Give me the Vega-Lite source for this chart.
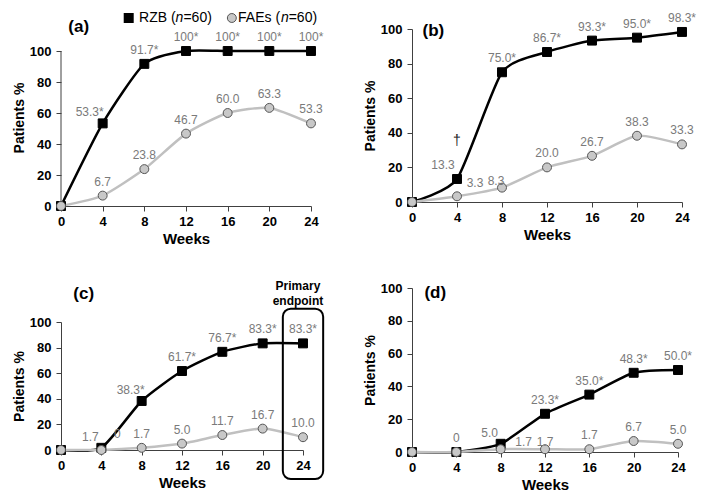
{
  "$schema": "https://vega.github.io/schema/vega-lite/v6.json",
  "padding": {"left": 12, "top": 10, "right": 5, "bottom": 5},
  "background": "white",
  "data": {"values": [
    {"panel": "a", "group": "RZB", "week": 0, "value": 0, "label": null},
    {"panel": "a", "group": "RZB", "week": 4, "value": 53.3, "label": "53.3*"},
    {"panel": "a", "group": "RZB", "week": 8, "value": 91.7, "label": "91.7*"},
    {"panel": "a", "group": "RZB", "week": 12, "value": 100, "label": "100*"},
    {"panel": "a", "group": "RZB", "week": 16, "value": 100, "label": "100*"},
    {"panel": "a", "group": "RZB", "week": 20, "value": 100, "label": "100*"},
    {"panel": "a", "group": "RZB", "week": 24, "value": 100, "label": "100*"},
    {"panel": "b", "group": "RZB", "week": 0, "value": 0, "label": null},
    {"panel": "b", "group": "RZB", "week": 4, "value": 13.3, "label": "13.3"},
    {"panel": "b", "group": "RZB", "week": 8, "value": 75.0, "label": "75.0*"},
    {"panel": "b", "group": "RZB", "week": 12, "value": 86.7, "label": "86.7*"},
    {"panel": "b", "group": "RZB", "week": 16, "value": 93.3, "label": "93.3*"},
    {"panel": "b", "group": "RZB", "week": 20, "value": 95.0, "label": "95.0*"},
    {"panel": "b", "group": "RZB", "week": 24, "value": 98.3, "label": "98.3*"},
    {"panel": "c", "group": "RZB", "week": 0, "value": 0, "label": null},
    {"panel": "c", "group": "RZB", "week": 4, "value": 1.7, "label": "1.7"},
    {"panel": "c", "group": "RZB", "week": 8, "value": 38.3, "label": "38.3*"},
    {"panel": "c", "group": "RZB", "week": 12, "value": 61.7, "label": "61.7*"},
    {"panel": "c", "group": "RZB", "week": 16, "value": 76.7, "label": "76.7*"},
    {"panel": "c", "group": "RZB", "week": 20, "value": 83.3, "label": "83.3*"},
    {"panel": "c", "group": "RZB", "week": 24, "value": 83.3, "label": "83.3*"},
    {"panel": "d", "group": "RZB", "week": 0, "value": 0, "label": null},
    {"panel": "d", "group": "RZB", "week": 4, "value": 0, "label": "0"},
    {"panel": "d", "group": "RZB", "week": 8, "value": 5.0, "label": "5.0"},
    {"panel": "d", "group": "RZB", "week": 12, "value": 23.3, "label": "23.3*"},
    {"panel": "d", "group": "RZB", "week": 16, "value": 35.0, "label": "35.0*"},
    {"panel": "d", "group": "RZB", "week": 20, "value": 48.3, "label": "48.3*"},
    {"panel": "d", "group": "RZB", "week": 24, "value": 50.0, "label": "50.0*"},
    {"panel": "a", "group": "FAEs", "week": 0, "value": 0, "label": null},
    {"panel": "a", "group": "FAEs", "week": 4, "value": 6.7, "label": "6.7"},
    {"panel": "a", "group": "FAEs", "week": 8, "value": 23.8, "label": "23.8"},
    {"panel": "a", "group": "FAEs", "week": 12, "value": 46.7, "label": "46.7"},
    {"panel": "a", "group": "FAEs", "week": 16, "value": 60.0, "label": "60.0"},
    {"panel": "a", "group": "FAEs", "week": 20, "value": 63.3, "label": "63.3"},
    {"panel": "a", "group": "FAEs", "week": 24, "value": 53.3, "label": "53.3"},
    {"panel": "b", "group": "FAEs", "week": 0, "value": 0, "label": null},
    {"panel": "b", "group": "FAEs", "week": 4, "value": 3.3, "label": "3.3"},
    {"panel": "b", "group": "FAEs", "week": 8, "value": 8.3, "label": "8.3"},
    {"panel": "b", "group": "FAEs", "week": 12, "value": 20.0, "label": "20.0"},
    {"panel": "b", "group": "FAEs", "week": 16, "value": 26.7, "label": "26.7"},
    {"panel": "b", "group": "FAEs", "week": 20, "value": 38.3, "label": "38.3"},
    {"panel": "b", "group": "FAEs", "week": 24, "value": 33.3, "label": "33.3"},
    {"panel": "c", "group": "FAEs", "week": 0, "value": 0, "label": null},
    {"panel": "c", "group": "FAEs", "week": 4, "value": 0, "label": "0"},
    {"panel": "c", "group": "FAEs", "week": 8, "value": 1.7, "label": "1.7"},
    {"panel": "c", "group": "FAEs", "week": 12, "value": 5.0, "label": "5.0"},
    {"panel": "c", "group": "FAEs", "week": 16, "value": 11.7, "label": "11.7"},
    {"panel": "c", "group": "FAEs", "week": 20, "value": 16.7, "label": "16.7"},
    {"panel": "c", "group": "FAEs", "week": 24, "value": 10.0, "label": "10.0"},
    {"panel": "d", "group": "FAEs", "week": 0, "value": 0, "label": null},
    {"panel": "d", "group": "FAEs", "week": 4, "value": 0, "label": null},
    {"panel": "d", "group": "FAEs", "week": 8, "value": 1.7, "label": "1.7"},
    {"panel": "d", "group": "FAEs", "week": 12, "value": 1.7, "label": "1.7"},
    {"panel": "d", "group": "FAEs", "week": 16, "value": 1.7, "label": "1.7"},
    {"panel": "d", "group": "FAEs", "week": 20, "value": 6.7, "label": "6.7"},
    {"panel": "d", "group": "FAEs", "week": 24, "value": 5.0, "label": "5.0"}
  ]},
  "spacing": 38,
  "hconcat": [
    {
      "spacing": 34,
      "vconcat": [
        {
          "width": 250, "height": 177,
          "encoding": {
            "x": {"field": "week", "type": "quantitative", "scale": {"domain": [0, 24], "nice": false}, "axis": {"values": [0, 4, 8, 12, 16, 20, 24], "title": "Weeks"}},
            "y": {"field": "value", "type": "quantitative", "scale": {"domain": [0, 114.2], "nice": false}, "axis": {"values": [0, 20, 40, 60, 80, 100], "title": "Patients %", "domain": false}}
          },
          "layer": [
            {"transform": [{"filter": "datum.panel == 'a' && datum.group == 'RZB' && datum.week == 0"}], "mark": {"type": "rule", "color": "#404040", "strokeWidth": 1}, "encoding": {"x": {"datum": 0}, "y": {"datum": 0}, "y2": {"datum": 100}}},
            {"transform": [{"filter": "datum.panel == 'a'"}], "mark": {"type": "line", "interpolate": "cardinal", "tension": 0.4, "strokeWidth": 2.5}, "encoding": {"color": {"field": "group", "type": "nominal", "scale": {"domain": ["RZB", "FAEs"], "range": ["black", "#c0c0c0"]}, "legend": null}}},
            {"transform": [{"filter": "datum.panel == 'a'"}], "mark": {"type": "point", "filled": true, "size": 80, "strokeWidth": 1, "opacity": 1},
             "encoding": {
               "shape": {"field": "group", "type": "nominal", "scale": {"domain": ["RZB", "FAEs"], "range": ["square", "circle"]}, "legend": null},
               "fill": {"field": "group", "type": "nominal", "scale": {"domain": ["RZB", "FAEs"], "range": ["black", "#c8c8c8"]}, "legend": null},
               "stroke": {"field": "group", "type": "nominal", "scale": {"domain": ["RZB", "FAEs"], "range": ["black", "#555555"]}, "legend": null}
             }},
            {"transform": [{"filter": "datum.panel == 'a' && datum.label != null && !(datum.group == 'RZB' && datum.week == 4)"}], "mark": {"type": "text", "dy": -14}, "encoding": {"text": {"field": "label"}}},
            {"transform": [{"filter": "datum.panel == 'a' && datum.group == 'RZB' && datum.week == 4"}], "mark": {"type": "text", "dx": -13, "dy": -11}, "encoding": {"text": {"field": "label"}}},
            {"transform": [{"filter": "datum.panel == 'a' && datum.group == 'RZB' && datum.week == 0"}], "mark": {"type": "text", "text": "(a)", "fontSize": 17, "fontWeight": "bold", "color": "black"}, "encoding": {"x": {"datum": 1.7}, "y": {"datum": 115.5}}},
            {"transform": [{"filter": "datum.panel == 'a' && datum.group == 'RZB' && datum.week == 0"}], "mark": {"type": "point", "shape": "square", "filled": true, "size": 100, "color": "black", "opacity": 1}, "encoding": {"x": {"datum": 6.5}, "y": {"datum": 121.3}}},
            {"transform": [{"filter": "datum.panel == 'a' && datum.group == 'RZB' && datum.week == 0"}], "mark": {"type": "point", "shape": "circle", "filled": true, "size": 80, "fill": "#c8c8c8", "stroke": "#555555", "strokeWidth": 1, "opacity": 1}, "encoding": {"x": {"datum": 16.4}, "y": {"datum": 121.3}}},
            {"transform": [{"filter": "datum.panel == 'a' && datum.group == 'RZB' && datum.week == 0"}], "mark": {"type": "text", "text": "RZB (", "align": "left", "baseline": "middle", "fontSize": 14, "color": "black"}, "encoding": {"x": {"datum": 7.49}, "y": {"datum": 121.3}}},
            {"transform": [{"filter": "datum.panel == 'a' && datum.group == 'RZB' && datum.week == 0"}], "mark": {"type": "text", "text": "n", "align": "left", "baseline": "middle", "fontSize": 14, "fontStyle": "italic", "color": "black", "dx": 36.6}, "encoding": {"x": {"datum": 7.49}, "y": {"datum": 121.3}}},
            {"transform": [{"filter": "datum.panel == 'a' && datum.group == 'RZB' && datum.week == 0"}], "mark": {"type": "text", "text": "=60)", "align": "left", "baseline": "middle", "fontSize": 14, "color": "black", "dx": 44.4}, "encoding": {"x": {"datum": 7.49}, "y": {"datum": 121.3}}},
            {"transform": [{"filter": "datum.panel == 'a' && datum.group == 'RZB' && datum.week == 0"}], "mark": {"type": "text", "text": "FAEs (", "align": "left", "baseline": "middle", "fontSize": 14, "color": "black"}, "encoding": {"x": {"datum": 17.0}, "y": {"datum": 121.3}}},
            {"transform": [{"filter": "datum.panel == 'a' && datum.group == 'RZB' && datum.week == 0"}], "mark": {"type": "text", "text": "n", "align": "left", "baseline": "middle", "fontSize": 14, "fontStyle": "italic", "color": "black", "dx": 42.8}, "encoding": {"x": {"datum": 17.0}, "y": {"datum": 121.3}}},
            {"transform": [{"filter": "datum.panel == 'a' && datum.group == 'RZB' && datum.week == 0"}], "mark": {"type": "text", "text": "=60)", "align": "left", "baseline": "middle", "fontSize": 14, "color": "black", "dx": 50.6}, "encoding": {"x": {"datum": 17.0}, "y": {"datum": 121.3}}}
          ]
        },
        {
          "width": 242, "height": 128,
          "encoding": {
            "x": {"field": "week", "type": "quantitative", "scale": {"domain": [0, 24], "nice": false}, "axis": {"values": [0, 4, 8, 12, 16, 20, 24], "title": "Weeks"}},
            "y": {"field": "value", "type": "quantitative", "scale": {"domain": [0, 100], "nice": false}, "axis": {"values": [0, 20, 40, 60, 80, 100], "title": "Patients %"}}
          },
          "layer": [
            {"transform": [{"filter": "datum.panel == 'c'"}], "mark": {"type": "line", "interpolate": "cardinal", "tension": 0.4, "strokeWidth": 2.5}, "encoding": {"color": {"field": "group", "type": "nominal", "scale": {"domain": ["RZB", "FAEs"], "range": ["black", "#c0c0c0"]}, "legend": null}}},
            {"transform": [{"filter": "datum.panel == 'c'"}], "mark": {"type": "point", "filled": true, "size": 80, "strokeWidth": 1, "opacity": 1},
             "encoding": {
               "shape": {"field": "group", "type": "nominal", "scale": {"domain": ["RZB", "FAEs"], "range": ["square", "circle"]}, "legend": null},
               "fill": {"field": "group", "type": "nominal", "scale": {"domain": ["RZB", "FAEs"], "range": ["black", "#c8c8c8"]}, "legend": null},
               "stroke": {"field": "group", "type": "nominal", "scale": {"domain": ["RZB", "FAEs"], "range": ["black", "#555555"]}, "legend": null}
             }},
            {"transform": [{"filter": "datum.panel == 'c' && datum.label != null && !(datum.group == 'RZB' && (datum.week == 4 || datum.week == 8)) && !(datum.group == 'FAEs' && datum.week == 4)"}], "mark": {"type": "text", "dy": -14}, "encoding": {"text": {"field": "label"}}},
            {"transform": [{"filter": "datum.panel == 'c' && datum.group == 'RZB' && (datum.week == 4 || datum.week == 8)"}], "mark": {"type": "text", "dx": -11, "dy": -11}, "encoding": {"text": {"field": "label"}}},
            {"transform": [{"filter": "datum.panel == 'c' && datum.group == 'FAEs' && datum.week == 4"}], "mark": {"type": "text", "dx": 16, "dy": -16}, "encoding": {"text": {"field": "label"}}},
            {"transform": [{"filter": "datum.panel == 'c' && datum.group == 'RZB' && datum.week == 0"}], "mark": {"type": "rect", "filled": false, "stroke": "black", "strokeWidth": 2, "cornerRadius": 8}, "encoding": {"x": {"datum": 22}, "x2": {"datum": 26}, "y": {"datum": -22.7}, "y2": {"datum": 110.4}}},
            {"transform": [{"filter": "datum.panel == 'c' && datum.group == 'RZB' && datum.week == 0"}], "mark": {"type": "text", "text": "Primary", "fontSize": 12, "fontWeight": "bold", "color": "black"}, "encoding": {"x": {"datum": 23.5}, "y": {"datum": 128}}},
            {"transform": [{"filter": "datum.panel == 'c' && datum.group == 'RZB' && datum.week == 0"}], "mark": {"type": "text", "text": "endpoint", "fontSize": 12, "fontWeight": "bold", "color": "black"}, "encoding": {"x": {"datum": 23.5}, "y": {"datum": 116.4}}},
            {"transform": [{"filter": "datum.panel == 'c' && datum.group == 'RZB' && datum.week == 0"}], "mark": {"type": "text", "text": "(c)", "fontSize": 17, "fontWeight": "bold", "color": "black"}, "encoding": {"x": {"datum": 2.25}, "y": {"datum": 122}}}
          ]
        }
      ]
    },
    {
      "spacing": 40,
      "vconcat": [
        {
          "width": 270, "height": 173,
          "encoding": {
            "x": {"field": "week", "type": "quantitative", "scale": {"domain": [0, 24], "nice": false}, "axis": {"values": [0, 4, 8, 12, 16, 20, 24], "title": "Weeks"}},
            "y": {"field": "value", "type": "quantitative", "scale": {"domain": [0, 100], "nice": false}, "axis": {"values": [0, 20, 40, 60, 80, 100], "title": "Patients %"}}
          },
          "layer": [
            {"transform": [{"filter": "datum.panel == 'b'"}], "mark": {"type": "line", "interpolate": "cardinal", "tension": 0.4, "strokeWidth": 2.5}, "encoding": {"color": {"field": "group", "type": "nominal", "scale": {"domain": ["RZB", "FAEs"], "range": ["black", "#c0c0c0"]}, "legend": null}}},
            {"transform": [{"filter": "datum.panel == 'b'"}], "mark": {"type": "point", "filled": true, "size": 80, "strokeWidth": 1, "opacity": 1},
             "encoding": {
               "shape": {"field": "group", "type": "nominal", "scale": {"domain": ["RZB", "FAEs"], "range": ["square", "circle"]}, "legend": null},
               "fill": {"field": "group", "type": "nominal", "scale": {"domain": ["RZB", "FAEs"], "range": ["black", "#c8c8c8"]}, "legend": null},
               "stroke": {"field": "group", "type": "nominal", "scale": {"domain": ["RZB", "FAEs"], "range": ["black", "#555555"]}, "legend": null}
             }},
            {"transform": [{"filter": "datum.panel == 'b' && datum.label != null && !(datum.group == 'RZB' && datum.week == 4) && !(datum.group == 'FAEs' && (datum.week == 4 || datum.week == 8))"}], "mark": {"type": "text", "dy": -14}, "encoding": {"text": {"field": "label"}}},
            {"transform": [{"filter": "datum.panel == 'b' && datum.group == 'RZB' && datum.week == 4"}], "mark": {"type": "text", "dx": -14, "dy": -14}, "encoding": {"text": {"field": "label"}}},
            {"transform": [{"filter": "datum.panel == 'b' && datum.group == 'FAEs' && datum.week == 4"}], "mark": {"type": "text", "dx": 18, "dy": -13}, "encoding": {"text": {"field": "label"}}},
            {"transform": [{"filter": "datum.panel == 'b' && datum.group == 'FAEs' && datum.week == 8"}], "mark": {"type": "text", "dx": -6, "dy": -7}, "encoding": {"text": {"field": "label"}}},
            {"transform": [{"filter": "datum.panel == 'b' && datum.group == 'RZB' && datum.week == 0"}], "mark": {"type": "text", "text": "†", "fontSize": 14, "color": "#222222"}, "encoding": {"x": {"datum": 4}, "y": {"datum": 35}}},
            {"transform": [{"filter": "datum.panel == 'b' && datum.group == 'RZB' && datum.week == 0"}], "mark": {"type": "text", "text": "(b)", "fontSize": 17, "fontWeight": "bold", "color": "black"}, "encoding": {"x": {"datum": 1.9}, "y": {"datum": 98.8}}}
          ]
        },
        {
          "width": 266, "height": 164,
          "encoding": {
            "x": {"field": "week", "type": "quantitative", "scale": {"domain": [0, 24], "nice": false}, "axis": {"values": [0, 4, 8, 12, 16, 20, 24], "title": "Weeks"}},
            "y": {"field": "value", "type": "quantitative", "scale": {"domain": [0, 100], "nice": false}, "axis": {"values": [0, 20, 40, 60, 80, 100], "title": "Patients %"}}
          },
          "layer": [
            {"transform": [{"filter": "datum.panel == 'd'"}], "mark": {"type": "line", "interpolate": "cardinal", "tension": 0.4, "strokeWidth": 2.5}, "encoding": {"color": {"field": "group", "type": "nominal", "scale": {"domain": ["RZB", "FAEs"], "range": ["black", "#c0c0c0"]}, "legend": null}}},
            {"transform": [{"filter": "datum.panel == 'd'"}], "mark": {"type": "point", "filled": true, "size": 80, "strokeWidth": 1, "opacity": 1},
             "encoding": {
               "shape": {"field": "group", "type": "nominal", "scale": {"domain": ["RZB", "FAEs"], "range": ["square", "circle"]}, "legend": null},
               "fill": {"field": "group", "type": "nominal", "scale": {"domain": ["RZB", "FAEs"], "range": ["black", "#c8c8c8"]}, "legend": null},
               "stroke": {"field": "group", "type": "nominal", "scale": {"domain": ["RZB", "FAEs"], "range": ["black", "#555555"]}, "legend": null}
             }},
            {"transform": [{"filter": "datum.panel == 'd' && datum.label != null && !(datum.group == 'RZB' && datum.week == 8) && !(datum.group == 'FAEs' && (datum.week == 8 || datum.week == 12))"}], "mark": {"type": "text", "dy": -14}, "encoding": {"text": {"field": "label"}}},
            {"transform": [{"filter": "datum.panel == 'd' && datum.group == 'RZB' && datum.week == 8"}], "mark": {"type": "text", "dx": -11, "dy": -11}, "encoding": {"text": {"field": "label"}}},
            {"transform": [{"filter": "datum.panel == 'd' && datum.group == 'FAEs' && datum.week == 8"}], "mark": {"type": "text", "dx": 23, "dy": -7}, "encoding": {"text": {"field": "label"}}},
            {"transform": [{"filter": "datum.panel == 'd' && datum.group == 'FAEs' && datum.week == 12"}], "mark": {"type": "text", "dy": -7}, "encoding": {"text": {"field": "label"}}},
            {"transform": [{"filter": "datum.panel == 'd' && datum.group == 'RZB' && datum.week == 0"}], "mark": {"type": "text", "text": "(d)", "fontSize": 17, "fontWeight": "bold", "color": "black"}, "encoding": {"x": {"datum": 2.1}, "y": {"datum": 97}}}
          ]
        }
      ]
    }
  ],
  "config": {
    "font": "Liberation Sans",
    "view": {"stroke": null},
    "text": {"fontSize": 12, "color": "#7a7a7a", "font": "Liberation Sans"},
    "axis": {
      "grid": false,
      "labelFont": "Liberation Sans", "labelFontWeight": "bold", "labelFontSize": 13, "labelColor": "black", "labelFlush": false,
      "titleFont": "Liberation Sans", "titleFontWeight": "bold", "titleFontSize": 15, "titleColor": "black",
      "domainColor": "#404040", "tickColor": "#404040", "tickSize": 5
    },
    "axisX": {"labelPadding": 4, "titlePadding": 3, "labelAngle": 0},
    "axisY": {"labelPadding": 5, "titlePadding": 3, "titleFontSize": 14}
  }
}
